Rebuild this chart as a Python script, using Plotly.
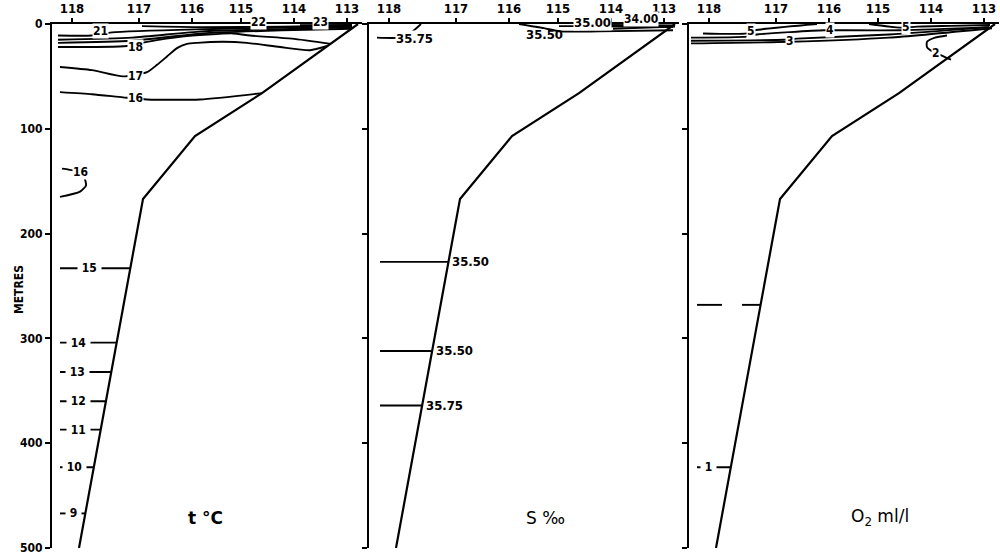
import numpy as np
import plotly.graph_objects as go

# ---------------- data ----------------
STATION_LON = ["118", "117", "116", "115", "114", "113"]
STATION_DIST = [20, 87, 140, 189, 242, 295]          # distance along section
DEPTH_TICKS = [0, 100, 200, 300, 400, 500]

# bottom profile (distance, depth m)
BOTTOM_DIST = [306, 210, 143, 91, 27]
BOTTOM_DEPTH = [0, 66, 107, 167, 500]

# --- temperature (t °C), near-surface isotherms ---
T23_X = [248, 300]; T23_D = [1.2, 1.0]
T22_X = [90, 150, 230, 300]; T22_D = [2.0, 3.0, 2.5, 1.5]
T21_X = [6, 40, 60, 150, 230, 300]; T21_D = [11, 11, 8, 5, 3.5, 2]
T20_X = [6, 80, 150, 230, 300]; T20_D = [15, 13, 7, 5, 3]
T19_X = [6, 80, 150, 230, 300]; T19_D = [18, 16, 9, 6, 4.5]
T18_X = [6, 75, 95, 130, 181, 198, 240, 279]; T18_D = [22, 21, 17, 12, 9, 11, 14, 19]
T17_X = [8, 40, 71, 95, 105, 115, 125, 135, 145, 171, 195, 228, 258, 275]
T17_D = [41, 44, 50, 46, 39, 31, 23, 19, 18, 17, 18, 22, 25, 21]
T16_X = [8, 40, 71, 95, 148, 210]; T16_D = [65, 67, 70, 72, 72, 66]
T16B_X = [10, 22, 32, 34, 28, 8]; T16B_D = [138, 140, 146, 154, 160, 165]
# deep isotherms (horizontal from section edge to bottom)
T_DEEP_VAL = ["15", "14", "13", "12", "11", "10", "9"]
T_DEEP_D = [233, 304, 332, 360, 387, 423, 467]
T_DEEP_LABX = [37, 26, 25, 26, 26, 22, 21]
T_LABELS = ["23", "22", "21", "18", "17", "16", "16"]
T_LAB_X = [268, 206, 48, 83, 83, 83, 28]
T_LAB_D = [-1.5, -1.5, 7, 22, 50, 71, 141]

# --- salinity (S ‰) ---
S3575A_X = [8, 30, 41, 52]; S3575A_D = [13, 13, 9, 0]
S3550A_X = [150, 175, 191, 230, 304]; S3550A_D = [0, 4, 7, 7, 6]
S3500_X = [190, 210, 304]; S3500_D = [2, 2, 3]
S3400_X = [238, 306]; S3400_D = [1, 1.5]
SX_X = [244, 306]; SX_D = [4.5, 2.5]
S_DEEP_VAL = ["35.50", "35.50", "35.75"]
S_DEEP_D = [227, 312, 364]
S_LABELS = ["35.75", "35.50", "35.00", "34.00"]
S_LAB_X = [45, 175, 223, 272]
S_LAB_D = [14, 10.5, -1.5, -5]

# --- oxygen (O2 ml/l) ---
O5A_X = [14, 58, 66, 128]; O5A_D = [9, 9, 6, 0]
O4_X = [2, 58, 68, 135, 147, 214, 300]; O4_D = [13, 12, 10, 6, 6, 6, 3]
O3_X = [2, 95, 108, 200, 300]; O3_D = [16, 15, 14, 10, 3]
OB_X = [2, 100, 200, 303]; OB_D = [18.5, 17, 13, 4]
O5B_X = [180, 205, 214, 228, 262, 301]; O5B_D = [0, 3, 3.5, 2.5, 1.8, 1]
O2_X = [258, 246, 238, 238, 243, 250, 257, 262]; O2_D = [11, 13, 17, 22, 26, 29, 32, 34]
O_GAP_D = 268; O_GAP_X = [8, 33, 53]
O_DEEP_VAL = ["1"]; O_DEEP_D = [423]; O_DEEP_LABX = [19]
O_LABELS = ["5", "4", "3", "5", "2"]
O_LAB_X = [62, 141, 101, 217, 247]
O_LAB_D = [7, 6, 16, 3, 28]

TITLES = ["t °C", "S ‰", "O<sub>2</sub> ml/l"]
TITLE_X = [153, 176, 191]
TITLE_D = 471

# ---------------- layout helpers ----------------
W, H = 1000, 558
TOP_PX, BOT_PX = 24, 548
DOMAINS = [(52, 362), (369, 679), (689, 999)]
XR = 310
PX_PER_M = (BOT_PX - TOP_PX) / 500
NARROW = "Liberation Sans Narrow, DejaVu Sans Condensed, Arial Narrow, sans-serif"
LW = 1.9


def prof_x(d):
    return float(np.interp(d, BOTTOM_DEPTH, BOTTOM_DIST))


fig = go.Figure()
annotations = []


def line(panel, xs, ds, width=LW):
    fig.add_trace(go.Scatter(x=xs, y=ds, mode="lines", xaxis=f"x{panel if panel > 1 else ''}",
                             yaxis=f"y{panel if panel > 1 else ''}",
                             line=dict(color="black", width=width, shape="spline", smoothing=0.6),
                             hoverinfo="skip", showlegend=False, connectgaps=False))


def label(panel, x, d, text, bg=True, size=12, xanchor="center"):
    sfx = panel if panel > 1 else ""
    y0 = max(d, 0)
    annotations.append(dict(x=x, y=y0, yshift=(y0 - d) * PX_PER_M, xref=f"x{sfx}", yref=f"y{sfx}",
                            text=text, showarrow=False, xanchor=xanchor, yanchor="middle",
                            font=dict(family=NARROW, size=size, color="black", weight="bold"),
                            bgcolor="white" if bg else "rgba(0,0,0,0)", borderpad=0))


# bottom profile on each panel
for p in (1, 2, 3):
    fig.add_trace(go.Scatter(x=BOTTOM_DIST, y=BOTTOM_DEPTH, mode="lines",
                             xaxis=f"x{p if p > 1 else ''}", yaxis=f"y{p if p > 1 else ''}",
                             line=dict(color="black", width=2.2), hoverinfo="skip", showlegend=False))

# panel 1: temperature
for xs, ds in [(T23_X, T23_D), (T22_X, T22_D), (T21_X, T21_D), (T20_X, T20_D), (T19_X, T19_D),
               (T18_X, T18_D), (T17_X, T17_D), (T16_X, T16_D), (T16B_X, T16B_D)]:
    line(1, xs, ds)
for v, d, lx in zip(T_DEEP_VAL, T_DEEP_D, T_DEEP_LABX):
    line(1, [8, prof_x(d)], [d, d])
    label(1, lx, d, "\u00a0" + v + "\u00a0")
for t, x, d in zip(T_LABELS, T_LAB_X, T_LAB_D):
    label(1, x, d, t)

# panel 2: salinity
for xs, ds in [(S3575A_X, S3575A_D), (S3550A_X, S3550A_D), (S3500_X, S3500_D),
               (S3400_X, S3400_D), (SX_X, SX_D)]:
    line(2, xs, ds)
for v, d in zip(S_DEEP_VAL, S_DEEP_D):
    line(2, [11, prof_x(d)], [d, d])
    label(2, prof_x(d) + 3, d, v, bg=False, size=13, xanchor="left")
for i, (t, x, d) in enumerate(zip(S_LABELS, S_LAB_X, S_LAB_D)):
    label(2, x, d, t, bg=(i != 1), size=13 if i < 3 else 12)

# panel 3: oxygen
for xs, ds in [(O5A_X, O5A_D), (O4_X, O4_D), (O3_X, O3_D), (OB_X, OB_D), (O5B_X, O5B_D), (O2_X, O2_D)]:
    line(3, xs, ds)
line(3, [O_GAP_X[0], O_GAP_X[1], None, O_GAP_X[2], prof_x(O_GAP_D)],
     [O_GAP_D, O_GAP_D, None, O_GAP_D, O_GAP_D])
for v, d, lx in zip(O_DEEP_VAL, O_DEEP_D, O_DEEP_LABX):
    line(3, [8, prof_x(d)], [d, d])
    label(3, lx, d, "\u00a0" + v + "\u00a0")
for t, x, d in zip(O_LABELS, O_LAB_X, O_LAB_D):
    label(3, x, d, t)

# panel titles
for i, (t, x) in enumerate(zip(TITLES, TITLE_X)):
    sfx = i + 1 if i > 0 else ""
    annotations.append(dict(x=x, y=TITLE_D, xref=f"x{sfx}", yref=f"y{sfx}", text=t, showarrow=False,
                            font=dict(family="DejaVu Sans, sans-serif", size=17, color="black",
                                      weight="bold" if i == 0 else "normal")))

annotations.append(dict(x=10 / W, y=1 - 290 / H, xref="paper", yref="paper", text="METRES",
                        textangle=-90, showarrow=False,
                        font=dict(family=NARROW, size=12, color="black", weight="bold")))

ydom = [1 - BOT_PX / H, 1 - TOP_PX / H]
layout = dict(width=W, height=H, margin=dict(l=0, r=0, t=0, b=0), paper_bgcolor="white",
              plot_bgcolor="white", annotations=annotations, showlegend=False)
for i, (a, b) in enumerate(DOMAINS):
    sfx = str(i + 1) if i > 0 else ""
    layout[f"xaxis{sfx}"] = dict(domain=[a / W, b / W], range=[0, XR], side="top",
                                 anchor=f"y{sfx}", tickvals=STATION_DIST, ticktext=STATION_LON,
                                 ticks="outside", ticklen=4, tickwidth=1.5, tickcolor="black",
                                 showline=True, linecolor="black", linewidth=2.2,
                                 showgrid=False, zeroline=False, automargin=False,
                                 tickfont=dict(family=NARROW, size=13, color="black", weight="bold"))
    layout[f"yaxis{sfx}"] = dict(domain=ydom, range=[500, 0], anchor=f"x{sfx}",
                                 tickvals=DEPTH_TICKS, showticklabels=(i == 0),
                                 ticks="outside", ticklen=5, tickwidth=1.5, tickcolor="black",
                                 showline=True, linecolor="black", linewidth=2.2,
                                 showgrid=False, zeroline=False, automargin=False,
                                 tickfont=dict(family=NARROW, size=12, color="black", weight="bold"))
fig.update_layout(**layout)
fig.write_html("out.html", config={"displayModeBar": False},
               post_script="document.body.style.margin='0';")
